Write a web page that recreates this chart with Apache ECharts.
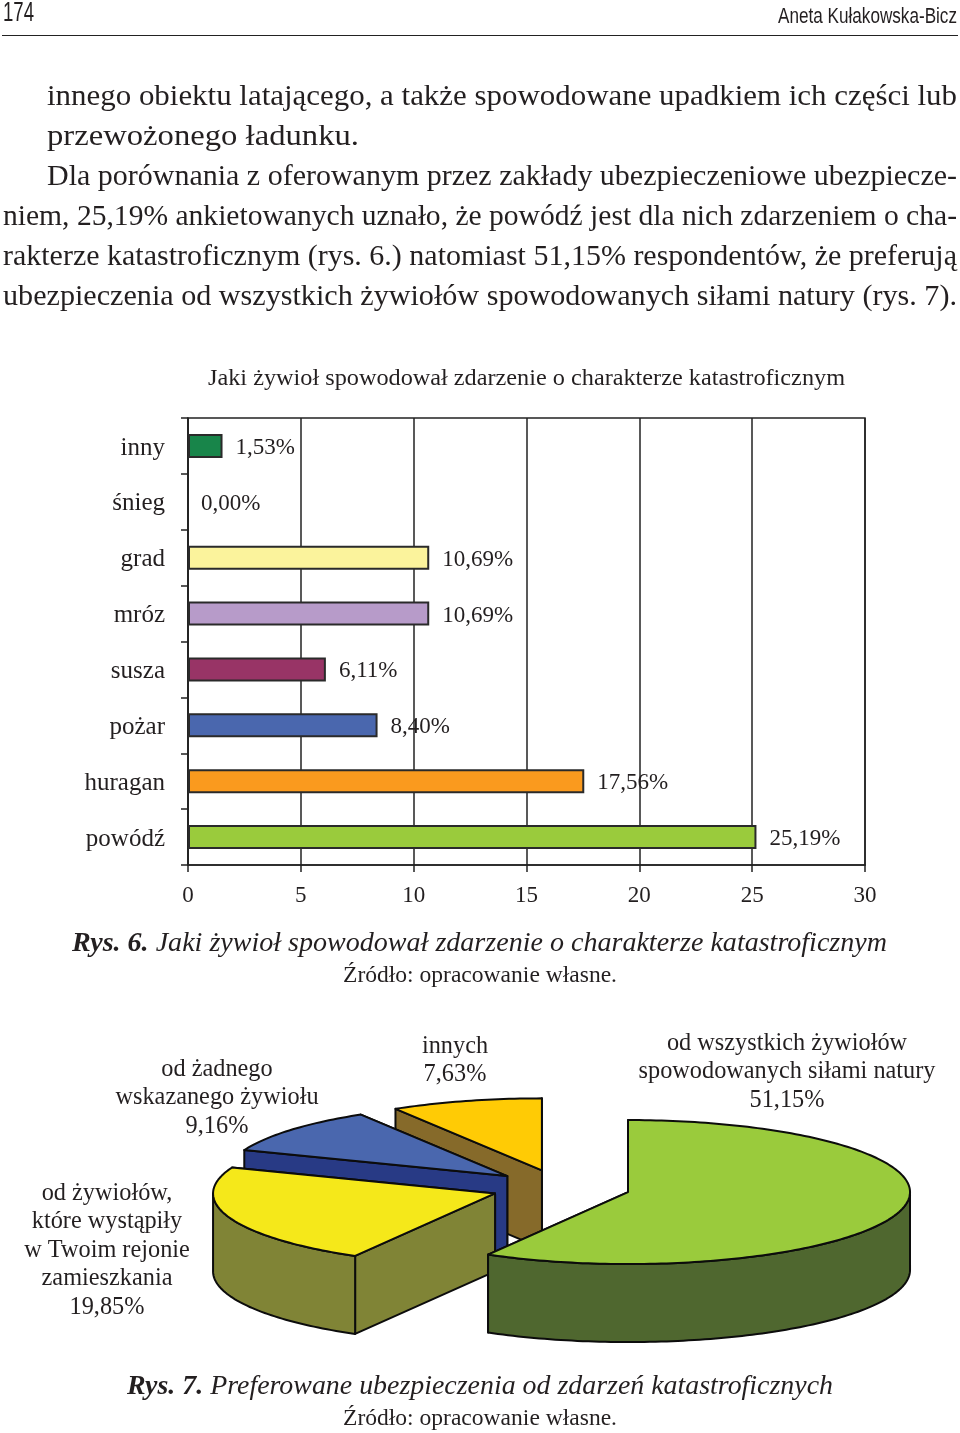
<!DOCTYPE html>
<html>
<head>
<meta charset="utf-8">
<style>
  html, body { margin: 0; padding: 0; background: #fff; }
  #main { width: 960px; height: 1433px; }
</style>
<script src="https://cdn.jsdelivr.net/npm/echarts@6/dist/echarts.min.js"></script>
</head>
<body>
<div id="main"></div>
<script>
  // rys. 6
  var barCategories = ['inny', 'śnieg', 'grad', 'mróz', 'susza', 'pożar', 'huragan', 'powódź']
  var barValues = [1.53, 0, 10.69, 10.69, 6.11, 8.4, 17.56, 25.19]
  var barColors = ['#18854a', '#ffffff', '#fbf39c', '#b79bc9', '#983466', '#4a67ae', '#fa9a1e', '#9acb3c']

  // rys. 7
  var pieNames = [
    'od wszystkich żywiołów\nspowodowanych siłami natury',
    'od żywiołów,\nktóre wystąpiły\nw Twoim rejonie\nzamieszkania',
    'od żadnego\nwskazanego żywiołu',
    'innych',
  ]
  var pieValues = [51.15, 19.85, 9.16, 7.63]
  var pieTopColors = ['#9acb3c', '#f5e81a', '#4a67ae', '#ffcb05']
  var pieWallColors = ['#4f672f', '#808436', '#283a85', '#866a2a']

  var SERIF = '"Liberation Serif", serif'
  var SANS = '"Liberation Sans", sans-serif'
  var INK = '#231f20'
  var measureCtx = document.createElement('canvas').getContext('2d')

  function pct(v) {
    return v.toFixed(2).replace('.', ',') + '%'
  }

  function widthOf(text, font) {
    measureCtx.font = font
    return measureCtx.measureText(text).width
  }

  // one line of the page, squeezed to the width it has in the print
  function pageLine(text, size, x0, x1, y, family) {
    var font = size + 'px ' + (family || SERIF)
    return {
      type: 'text',
      x: x0,
      y: y + 2,
      scaleX: (x1 - x0) / widthOf(text, font),
      style: { text: text, font: font, fill: INK, align: 'left', verticalAlign: 'middle' },
    }
  }

  function captionLine(label, text, size, x0, x1, y) {
    var boldFont = 'italic bold ' + size + 'px ' + SERIF
    var italicFont = 'italic ' + size + 'px ' + SERIF
    var w = widthOf(label + ' ', boldFont) + widthOf(text, italicFont)
    return {
      type: 'text',
      x: x0,
      y: y + 2,
      scaleX: (x1 - x0) / w,
      style: {
        text: '{b|' + label + ' }{i|' + text + '}',
        fill: INK,
        align: 'left',
        verticalAlign: 'middle',
        rich: {
          b: { font: boldFont, fill: INK },
          i: { font: italicFont, fill: INK },
        },
      },
    }
  }

  function centerBlock(text, x, y) {
    return {
      type: 'text',
      x: x,
      y: y,
      style: {
        text: text,
        font: '24.3px ' + SERIF,
        lineHeight: 28.5,
        fill: INK,
        align: 'center',
        verticalAlign: 'top',
      },
    }
  }

  var pageGraphics = [
    pageLine('174', 27, 3, 34, 12, SANS),
    pageLine('Aneta Kułakowska-Bicz', 22, 778, 957, 15, SANS),
    { type: 'line', shape: { x1: 2, y1: 35.5, x2: 958, y2: 35.5 }, style: { stroke: '#222', lineWidth: 1 } },
    pageLine('innego obiektu latającego, a także spowodowane upadkiem ich części lub', 29, 47, 957, 95),
    pageLine('przewożonego ładunku.', 29, 47, 359, 135),
    pageLine('Dla porównania z oferowanym przez zakłady ubezpieczeniowe ubezpiecze-', 29, 47, 957, 175),
    pageLine('niem, 25,19% ankietowanych uznało, że powódź jest dla nich zdarzeniem o cha-', 29, 3, 957, 215),
    pageLine('rakterze katastroficznym (rys. 6.) natomiast 51,15% respondentów, że preferują', 29, 3, 957, 255),
    pageLine('ubezpieczenia od wszystkich żywiołów spowodowanych siłami natury (rys. 7).', 29, 3, 957, 295),
    pageLine('Jaki żywioł spowodował zdarzenie o charakterze katastroficznym', 24, 208, 845, 377),
    captionLine('Rys. 6.', 'Jaki żywioł spowodował zdarzenie o charakterze katastroficznym', 28, 72, 887, 942),
    pageLine('Źródło: opracowanie własne.', 24, 343, 617, 974),
    captionLine('Rys. 7.', 'Preferowane ubezpieczenia od zdarzeń katastroficznych', 28, 127, 833, 1385),
    pageLine('Źródło: opracowanie własne.', 24, 343, 617, 1417),
  ]

  // pie labels, same order as pieValues
  var pieLabelAnchors = [[787, 1029], [107, 1179], [217, 1055], [455, 1032]]
  pieValues.forEach(function (v, i) {
    pageGraphics.push(centerBlock(pieNames[i] + '\n' + pct(v), pieLabelAnchors[i][0], pieLabelAnchors[i][1]))
  })

  // exploded 3d pie
  var PIE = { cx: 560.7, cy: 1187.5, rx: 282, ry: 72, depth: 78, explode: 0.247 }
  var pieTotal = pieValues.reduce(function (a, b) { return a + b }, 0)
  var pieSlices = []
  pieValues.reduce(function (acc, v, i) {
    var share = (v / pieTotal) * Math.PI * 2
    pieSlices.push({ index: i, value: v, start: acc, end: acc + share })
    return acc + share
  }, 0)

  function rimPoint(apex, a) {
    return [apex[0] + PIE.rx * Math.sin(a), apex[1] - PIE.ry * Math.cos(a)]
  }

  function arcPoints(apex, a0, a1) {
    var pts = []
    var n = Math.max(2, Math.ceil((a1 - a0) / 0.02))
    for (var k = 0; k <= n; k++) {
      pts.push(rimPoint(apex, a0 + ((a1 - a0) * k) / n))
    }
    return pts
  }

  function down(p) {
    return [p[0], p[1] + PIE.depth]
  }

  function renderSlice(params, api) {
    var s = pieSlices[pieSlices.length - 1 - params.dataIndex]
    var mid = (s.start + s.end) / 2
    var apex = [
      PIE.cx + PIE.explode * PIE.rx * Math.sin(mid),
      PIE.cy - PIE.explode * PIE.ry * Math.cos(mid),
    ]
    var edge = { stroke: '#0c0c0c', lineWidth: 2, lineJoin: 'round' }
    var wall = Object.assign({ fill: pieWallColors[s.index] }, edge)
    var top = Object.assign({ fill: pieTopColors[s.index] }, edge)
    var children = []
    var a0 = rimPoint(apex, s.start)
    var a1 = rimPoint(apex, s.end)
    // end wall faces away from us here, so it goes first
    children.push({ type: 'polygon', shape: { points: [apex, a1, down(a1), down(apex)] }, style: wall })
    children.push({ type: 'polygon', shape: { points: [apex, a0, down(a0), down(apex)] }, style: wall })
    // only the front half of the rim can be seen
    var f0 = Math.max(s.start, Math.PI / 2)
    var f1 = Math.min(s.end, (Math.PI * 3) / 2)
    if (f1 > f0) {
      var upper = arcPoints(apex, f0, f1)
      var lower = upper.map(down).reverse()
      children.push({ type: 'polygon', shape: { points: upper.concat(lower) }, style: wall })
    }
    children.push({
      type: 'polygon',
      shape: { points: [apex].concat(arcPoints(apex, s.start, s.end)) },
      style: top,
    })
    return { type: 'group', children: children }
  }

  var chart = echarts.init(document.getElementById('main'), null, { renderer: 'canvas' })

  chart.setOption({
    animation: false,
    backgroundColor: '#ffffff',
    textStyle: { fontFamily: SERIF },
    graphic: { elements: pageGraphics },
    grid: {
      left: 188,
      top: 418,
      width: 677,
      height: 447,
      show: true,
      borderColor: '#222',
      borderWidth: 1.5,
      backgroundColor: 'transparent',
    },
    xAxis: {
      type: 'value',
      position: 'bottom',
      min: 0,
      max: 30,
      interval: 5,
      axisLine: { show: true, onZero: false, lineStyle: { color: '#222', width: 1.5 } },
      axisTick: { show: true, length: 7, lineStyle: { color: '#222', width: 1.5 } },
      splitLine: { show: true, lineStyle: { color: '#222', width: 1.5 } },
      axisLabel: { color: INK, fontSize: 23, fontFamily: SERIF, margin: 19 },
    },
    yAxis: {
      type: 'category',
      inverse: true,
      data: barCategories,
      axisLine: { show: true, onZero: false, lineStyle: { color: '#222', width: 1.5 } },
      axisTick: { show: true, length: 7, lineStyle: { color: '#222', width: 1.5 } },
      // small top-aligned line box pushes the text 2px below the band centre
      axisLabel: { color: INK, fontSize: 25, fontFamily: SERIF, margin: 23, verticalAlign: 'top', lineHeight: 4 },
    },
    series: [
      {
        type: 'bar',
        barWidth: 24,
        z: 3,
        data: barValues.map(function (v, i) {
          return {
            value: v,
            itemStyle: {
              color: barColors[i],
              borderColor: '#2a2a2a',
              borderWidth: v > 0 ? 2 : 0,
            },
          }
        }),
        label: {
          show: true,
          position: 'right',
          distance: 13,
          offset: [0, 2],
          color: INK,
          fontSize: 23,
          fontFamily: SERIF,
          formatter: function (p) {
            return pct(p.value)
          },
        },
      },
      {
        type: 'custom',
        coordinateSystem: 'none',
        silent: true,
        z: 5,
        renderItem: renderSlice,
        // drawn back to front
        data: pieValues.slice().reverse(),
      },
    ],
  })
</script>
</body>
</html>
